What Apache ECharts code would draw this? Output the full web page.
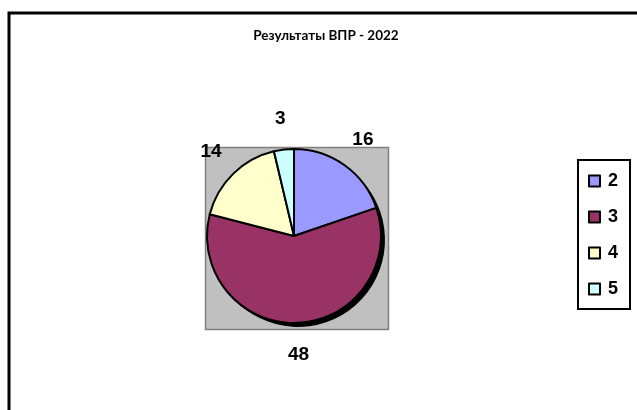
<!DOCTYPE html>
<html><head><meta charset="utf-8">
<script src="https://cdn.jsdelivr.net/npm/echarts@6/dist/echarts.min.js"></script>
<style>html,body{margin:0;padding:0;background:#fff}#c{width:637px;height:410px}</style>
</head><body><div id="c"></div>
<script>
const titleText = 'Результаты ВПР - 2022';
const categories = ['2', '3', '4', '5'];
const values = [16, 48, 14, 3];
const colors = ['#9999FF', '#993366', '#FFFFCC', '#CCFFFF'];

const chart = echarts.init(document.getElementById('c'), null, {renderer: 'canvas'});
const cx = 294, cy = 236, R = 87;
const mainData = categories.map((n, i) => ({name: n, value: values[i], itemStyle: {color: colors[i]}}));
const shadowData = categories.map((n, i) => ({name: n, value: values[i]}));

chart.setOption({
  animation: false,
  backgroundColor: '#fff',
  title: {
    text: titleText, left: 321, top: 24, textAlign: 'center', padding: 5,
    textStyle: {fontFamily: 'Lato', fontWeight: 'bold', fontSize: 13.5, color: '#000'}
  },
  graphic: [
    {type: 'rect', z: -10, shape: {x: 9, y: 13, width: 700, height: 500}, style: {fill: '#fff', stroke: '#000', lineWidth: 3}},
    {type: 'rect', z: -5, shape: {x: 205.5, y: 147.5, width: 183, height: 182}, style: {fill: '#C0C0C0', stroke: '#808080', lineWidth: 1.5}}
  ],
  legend: {
    orient: 'vertical', left: 578, top: 160,
    data: categories,
    icon: 'rect', itemWidth: 11, itemHeight: 11, itemGap: 18,
    padding: [12, 12, 11, 10],
    borderColor: '#000', borderWidth: 2, backgroundColor: '#fff',
    selectedMode: false,
    textStyle: {fontFamily: 'Liberation Sans', fontWeight: 'bold', fontSize: 18, lineHeight: 18, color: '#000', padding: [0, 0, 0, 3]}
  },
  series: [
    {
      type: 'pie', name: 'main', z: 3, center: [cx, cy], radius: R,
      startAngle: 90, clockwise: true, silent: true,
      itemStyle: {borderColor: '#000', borderWidth: 2},
      label: {show: false}, labelLine: {show: false},
      data: mainData
    },
    {
      type: 'pie', name: 'shadow', z: 1, center: [cx + 4, cy + 4], radius: R,
      startAngle: 90, clockwise: true, silent: true,
      itemStyle: {color: '#000', borderWidth: 0},
      label: {show: false}, labelLine: {show: false},
      data: shadowData
    },
    {
      type: 'pie', name: 'labels', z: 4, center: [cx, cy], radius: [104, 127],
      startAngle: 90, clockwise: true, silent: true,
      itemStyle: {color: 'transparent', borderWidth: 0},
      label: {show: true, position: 'inside', formatter: '{c}', fontFamily: 'Liberation Sans', fontWeight: 'bold', fontSize: 19, color: '#000'},
      labelLine: {show: false},
      data: shadowData
    }
  ]
});
</script></body></html>
